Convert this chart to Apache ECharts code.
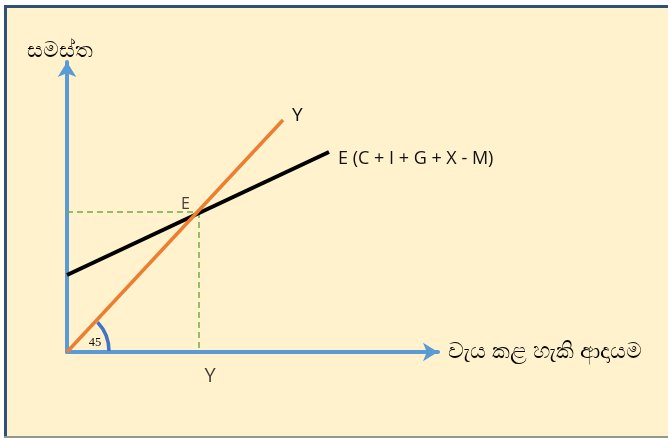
<!DOCTYPE html>
<html>
<head>
<meta charset="utf-8">
<script src="https://cdn.jsdelivr.net/npm/echarts@6/dist/echarts.min.js"></script>
<style>
  html, body { margin: 0; padding: 0; background: #ffffff; }
  #main { width: 668px; height: 438px; }
</style>
</head>
<body>
<div id="main"></div>
<script>
// diagram units: x = income, y = aggregate expenditure (same scale on both)
var xMax = 371;
var yMax = 290;
var lineY = [[0, 0], [216, 232]];          // 45 degree line
var lineE = [[0, 77], [262, 200]];         // E (C + I + G + X - M)
var pointE = [132, 140];
var guideH = [[0, 140], [132, 140]];
var guideV = [[132, 140], [132, 0]];
var angleRadius = 42;
var labelYAt = [143, 0];

var chart = echarts.init(document.getElementById('main'));

var option = {
  backgroundColor: 'transparent',
  animation: false,
  graphic: [
    { type: 'rect', z: -10, shape: { x: 4, y: 5, width: 670, height: 433 },
      style: { fill: '#FFF2CC' } },
    { type: 'rect', z: -9, shape: { x: 4, y: 5, width: 670, height: 3 },
      style: { fill: '#2E5079' } },
    { type: 'rect', z: -9, shape: { x: 4, y: 5, width: 3, height: 433 },
      style: { fill: '#2E5079' } },
    { type: 'rect', z: -9, shape: { x: 4, y: 436, width: 670, height: 2 },
      style: { fill: '#8E9A8E' } }
  ],
  grid: { left: 67, top: 62, right: 230, bottom: 86 },
  xAxis: {
    type: 'value', min: 0, max: xMax,
    axisLine: { show: true, symbol: ['none', 'arrow'], symbolSize: [14, 15],
      lineStyle: { color: '#5B9BD5', width: 4 } },
    axisTick: { show: false }, axisLabel: { show: false }, splitLine: { show: false },
    name: 'වැය කළ හැකි ආදායම', nameLocation: 'end', nameGap: 10,
    nameTextStyle: { color: '#000', fontSize: 22, fontFamily: 'sans-serif', align: 'left',
      verticalAlign: 'middle', padding: [4, 0, 0, 0] }
  },
  yAxis: {
    type: 'value', min: 0, max: yMax,
    axisLine: { show: true, symbol: ['none', 'arrow'], symbolSize: [14, 15],
      lineStyle: { color: '#5B9BD5', width: 4 } },
    axisTick: { show: false }, axisLabel: { show: false }, splitLine: { show: false },
    name: 'සමස්ත', nameLocation: 'end', nameGap: 0,
    nameTextStyle: { color: '#000', fontSize: 22, fontFamily: 'sans-serif', align: 'center',
      padding: [0, 14, 0, 0] }
  },
  series: [
    {
      type: 'line', data: guideH, symbol: 'none', z: 1,
      lineStyle: { color: '#70AD47', width: 1.5, type: [6, 4] }
    },
    {
      type: 'line', data: guideV, symbol: 'none', z: 1,
      lineStyle: { color: '#70AD47', width: 1.5, type: [6, 4] }
    },
    {
      type: 'line', data: lineE, symbol: 'none', z: 3,
      lineStyle: { color: '#000000', width: 4 },
      endLabel: { show: true, formatter: 'E (C + I + G + X - M)', color: '#111',
        fontSize: 18, fontFamily: 'Open Sans', distance: 9, offset: [0, 7] }
    },
    {
      type: 'line', data: lineY, symbol: 'none', z: 4,
      lineStyle: { color: '#ED7D31', width: 3.5 },
      endLabel: { show: true, formatter: 'Y', color: '#111',
        fontSize: 19, fontFamily: 'Open Sans', distance: 9, offset: [0, -4] }
    },
    {
      type: 'scatter', data: [pointE], symbolSize: 0, z: 5,
      label: { show: true, formatter: 'E', position: 'left', offset: [-4, -8],
        color: '#111', fontSize: 16, fontFamily: 'Open Sans' }
    },
    {
      type: 'scatter', data: [labelYAt], symbolSize: 0, z: 5,
      label: { show: true, formatter: 'Y', position: 'bottom', distance: 14,
        color: '#111', fontSize: 20, fontFamily: 'Open Sans' }
    },
    {
      type: 'custom', z: 6, data: [[0, 0, angleRadius]],
      renderItem: function (params, api) {
        var c = api.coord([api.value(0), api.value(1)]);
        var e = api.coord([api.value(0) + api.value(2), api.value(1)]);
        var r = e[0] - c[0];
        return {
          type: 'group',
          children: [
            {
              type: 'arc',
              shape: { cx: c[0], cy: c[1] - 1, r: r, startAngle: -Math.PI / 4 + 0.03, endAngle: 0, clockwise: true },
              style: { stroke: '#4472C4', lineWidth: 3.5, fill: null }
            },
            {
              type: 'text',
              style: { text: '45', x: c[0] + 28, y: c[1] - 9, align: 'center', verticalAlign: 'middle',
                fill: '#111', fontSize: 12.5, fontFamily: 'Liberation Serif' }
            }
          ]
        };
      }
    }
  ]
};

chart.setOption(option);
</script>
</body>
</html>
